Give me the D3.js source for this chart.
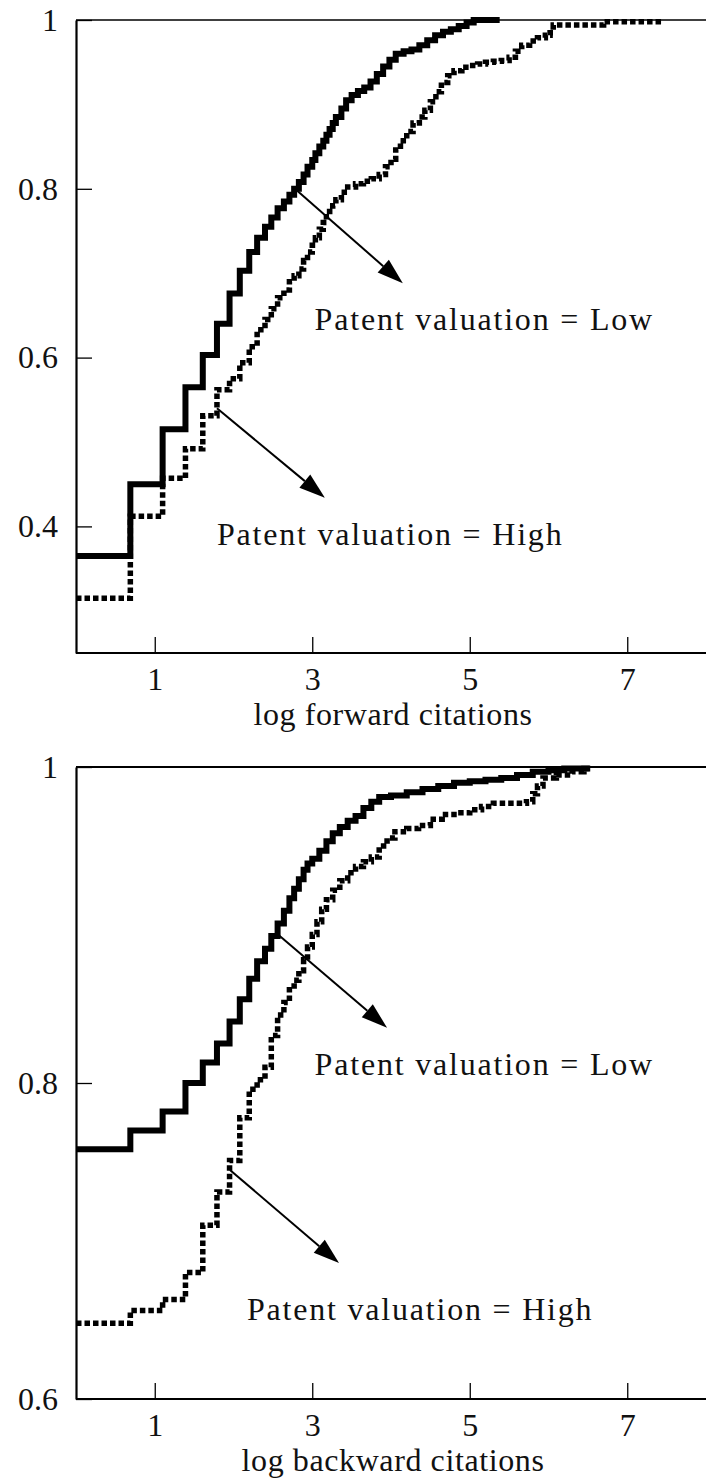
<!DOCTYPE html>
<html>
<head>
<meta charset="utf-8">
<script src="https://cdnjs.cloudflare.com/ajax/libs/d3/7.8.5/d3.min.js"></script>
<style>
  body { margin: 0; background: #fff; }
  text { font-family: "Liberation Serif", "DejaVu Serif", serif; fill: #111; }
</style>
</head>
<body>
<div id="container"></div>
<script>
var width = 706,
    height = 1484;

// forward citations, empirical CDF (step starts)
var fwdLowX  = [0, 0.69, 1.10, 1.39, 1.61, 1.79, 1.95, 2.08, 2.20, 2.30, 2.40, 2.48, 2.56, 2.64, 2.71, 2.77, 2.83, 2.89, 2.94, 3.00, 3.04, 3.09, 3.14, 3.18, 3.22, 3.26, 3.30, 3.37, 3.43, 3.50, 3.58, 3.66, 3.74, 3.82, 3.90, 3.98, 4.06, 4.16, 4.26, 4.36, 4.46, 4.56, 4.66, 4.76, 4.86, 4.96, 5.05, 5.38];
var fwdLowY  = [0.365, 0.45, 0.515, 0.565, 0.603, 0.64, 0.676, 0.703, 0.725, 0.742, 0.755, 0.766, 0.777, 0.785, 0.793, 0.80, 0.808, 0.817, 0.826, 0.834, 0.842, 0.85, 0.857, 0.864, 0.871, 0.878, 0.885, 0.895, 0.905, 0.911, 0.916, 0.92, 0.927, 0.936, 0.945, 0.953, 0.96, 0.963, 0.965, 0.97, 0.976, 0.982, 0.986, 0.989, 0.993, 0.997, 1.0, 1.0];
var fwdHighX = [0, 0.69, 1.10, 1.39, 1.61, 1.79, 1.95, 2.08, 2.20, 2.30, 2.40, 2.48, 2.56, 2.64, 2.71, 2.77, 2.83, 2.89, 2.94, 3.00, 3.04, 3.09, 3.14, 3.18, 3.22, 3.26, 3.30, 3.37, 3.45, 3.55, 3.65, 3.75, 3.85, 3.93, 4.00, 4.06, 4.12, 4.20, 4.28, 4.36, 4.43, 4.50, 4.57, 4.64, 4.72, 4.80, 4.90, 5.00, 5.10, 5.20, 5.30, 5.40, 5.50, 5.58, 5.66, 5.76, 5.86, 5.96, 6.02, 6.06, 6.70, 7.44];
var fwdHighY = [0.315, 0.412, 0.457, 0.492, 0.531, 0.562, 0.575, 0.594, 0.613, 0.633, 0.645, 0.658, 0.671, 0.68, 0.69, 0.697, 0.705, 0.715, 0.725, 0.733, 0.742, 0.752, 0.76, 0.767, 0.773, 0.78, 0.787, 0.796, 0.802, 0.806, 0.809, 0.812, 0.817, 0.826, 0.835, 0.846, 0.857, 0.868, 0.878, 0.885, 0.893, 0.903, 0.915, 0.926, 0.934, 0.94, 0.944, 0.946, 0.948, 0.95, 0.951, 0.952, 0.956, 0.963, 0.97, 0.975, 0.979, 0.982, 0.985, 0.994, 0.998, 0.998];

// backward citations, empirical CDF (step starts)
var bwdLowX  = [0, 0.69, 1.10, 1.39, 1.61, 1.79, 1.95, 2.08, 2.20, 2.30, 2.40, 2.48, 2.56, 2.64, 2.71, 2.77, 2.83, 2.89, 2.94, 3.00, 3.09, 3.18, 3.26, 3.35, 3.45, 3.55, 3.65, 3.75, 3.85, 4.0, 4.2, 4.4, 4.6, 4.8, 5.0, 5.2, 5.4, 5.6, 5.8, 6.0, 6.2, 6.53];
var bwdLowY  = [0.758, 0.770, 0.782, 0.80, 0.813, 0.825, 0.839, 0.853, 0.866, 0.877, 0.885, 0.893, 0.901, 0.909, 0.917, 0.923, 0.929, 0.935, 0.939, 0.942, 0.947, 0.953, 0.958, 0.962, 0.966, 0.969, 0.974, 0.978, 0.981, 0.982, 0.984, 0.986, 0.988, 0.990, 0.991, 0.992, 0.993, 0.995, 0.997, 0.998, 0.999, 0.999];
var bwdHighX = [0, 0.69, 1.10, 1.39, 1.61, 1.79, 1.95, 2.08, 2.20, 2.30, 2.40, 2.48, 2.56, 2.64, 2.71, 2.77, 2.83, 2.89, 2.94, 3.00, 3.06, 3.12, 3.18, 3.26, 3.35, 3.45, 3.55, 3.65, 3.75, 3.85, 3.95, 4.05, 4.20, 4.35, 4.50, 4.65, 4.85, 5.00, 5.15, 5.30, 5.50, 5.72, 5.80, 5.86, 5.93, 6.10, 6.30, 6.45, 6.53];
var bwdHighY = [0.648, 0.656, 0.663, 0.68, 0.71, 0.731, 0.751, 0.778, 0.796, 0.802, 0.81, 0.83, 0.843, 0.851, 0.859, 0.865, 0.871, 0.878, 0.886, 0.894, 0.902, 0.91, 0.916, 0.922, 0.928, 0.933, 0.937, 0.94, 0.943, 0.95, 0.955, 0.959, 0.961, 0.963, 0.967, 0.97, 0.971, 0.973, 0.975, 0.977, 0.977, 0.978, 0.983, 0.988, 0.993, 0.995, 0.997, 0.999, 1.0];

var xTicks = [1, 3, 5, 7];
var fwdYTicks = [0.4, 0.6, 0.8, 1];
var bwdYTicks = [0.6, 0.8, 1];

var svg = d3.select("#container").append("svg")
  .attr("width", width)
  .attr("height", height);

var x = d3.scaleLinear().domain([0, 8]).range([76, 706]);

function zip(xs, ys) {
  return xs.map(function(v, i) { return [v, ys[i]]; });
}

function drawPanel(opt) {
  var y = d3.scaleLinear().domain(opt.yDomain).range([opt.bottom, opt.top]);
  var g = svg.append("g");

  // reference line at 1
  g.append("line")
    .attr("x1", x(0)).attr("x2", width)
    .attr("y1", y(1)).attr("y2", y(1))
    .attr("stroke", "#000").attr("stroke-width", opt.topWidth);

  var yAxis = g.append("g")
    .attr("transform", "translate(" + x(0) + ",0)")
    .call(d3.axisLeft(y).tickValues(opt.yTicks).tickFormat(d3.format("~g"))
      .tickSizeInner(-16).tickSizeOuter(0).tickPadding(18));
  var xAxis = g.append("g")
    .attr("transform", "translate(0," + opt.bottom + ")")
    .call(d3.axisBottom(x).tickValues(xTicks).tickFormat(d3.format("d"))
      .tickSizeInner(-16).tickSizeOuter(0).tickPadding(14));

  [yAxis, xAxis].forEach(function(a) {
    a.select(".domain").attr("stroke", "#000").attr("stroke-width", 2.2);
    a.selectAll(".tick line").attr("stroke", "#000").attr("stroke-width", 1.3);
    a.selectAll(".tick text").attr("font-size", 32).attr("fill", "#111")
      .style("font-family", '"Liberation Serif", "DejaVu Serif", serif');
  });
  xAxis.select(".domain").attr("d", "M" + x(0) + ",0H" + width);

  g.append("text")
    .attr("x", x(4) + 2)
    .attr("y", opt.bottom + 72)
    .attr("text-anchor", "middle")
    .attr("font-size", 32)
    .attr("letter-spacing", 0.6)
    .text(opt.title);

  var line = d3.line()
    .x(function(d) { return x(d[0]); })
    .y(function(d) { return y(d[1]); })
    .curve(d3.curveStepAfter);

  g.append("path")
    .datum(zip(opt.highX, opt.highY))
    .attr("d", line)
    .attr("fill", "none")
    .attr("stroke", "#000")
    .attr("stroke-width", 5.5)
    .attr("stroke-dasharray", "5.5,3");

  g.append("path")
    .datum(zip(opt.lowX, opt.lowY))
    .attr("d", line)
    .attr("fill", "none")
    .attr("stroke", "#000")
    .attr("stroke-width", 6)
    .attr("stroke-linejoin", "miter");

  opt.notes.forEach(function(n) {
    var x1 = x(n.from[0]), y1 = y(n.from[1]),
        x2 = x(n.to[0]), y2 = y(n.to[1]);
    var ang = Math.atan2(y2 - y1, x2 - x1), len = 26, hw = 8.5;
    var bx = x2 - len * Math.cos(ang), by = y2 - len * Math.sin(ang);
    g.append("line")
      .attr("x1", x1).attr("y1", y1).attr("x2", bx).attr("y2", by)
      .attr("stroke", "#000").attr("stroke-width", 2);
    g.append("path")
      .attr("d", "M" + x2 + "," + y2 +
        "L" + (bx + hw * Math.sin(ang)) + "," + (by - hw * Math.cos(ang)) +
        "L" + (bx - hw * Math.sin(ang)) + "," + (by + hw * Math.cos(ang)) + "Z")
      .attr("fill", "#000");
    g.append("text")
      .attr("x", x(n.text[0]))
      .attr("y", y(n.text[1]))
      .attr("font-size", 32)
      .attr("letter-spacing", 1.8)
      .text(n.label);
  });
}

drawPanel({
  top: 20, bottom: 653, yDomain: [0.25, 1], yTicks: fwdYTicks, topWidth: 1.5,
  title: "log forward citations",
  lowX: fwdLowX, lowY: fwdLowY, highX: fwdHighX, highY: fwdHighY,
  notes: [
    { from: [2.78, 0.80], to: [4.15, 0.688], text: [3.03, 0.633], label: "Patent valuation = Low" },
    { from: [1.79, 0.540], to: [3.16, 0.434], text: [1.79, 0.378], label: "Patent valuation = High" }
  ]
});

drawPanel({
  top: 767, bottom: 1399, yDomain: [0.6, 1], yTicks: bwdYTicks, topWidth: 2.2,
  title: "log backward citations",
  lowX: bwdLowX, lowY: bwdLowY, highX: bwdHighX, highY: bwdHighY,
  notes: [
    { from: [2.565, 0.894], to: [3.95, 0.835], text: [3.03, 0.805], label: "Patent valuation = Low" },
    { from: [1.955, 0.745], to: [3.34, 0.686], text: [2.17, 0.65], label: "Patent valuation = High" }
  ]
});
</script>
</body>
</html>
